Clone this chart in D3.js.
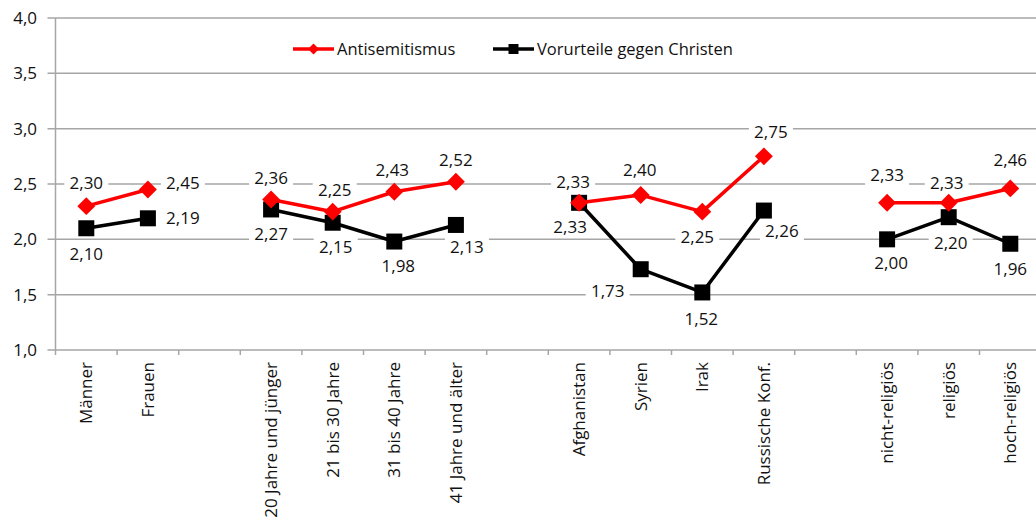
<!DOCTYPE html>
<html>
<head>
<meta charset="utf-8">
<script src="https://cdn.jsdelivr.net/npm/d3@7"></script>
<style>
  body { margin: 0; background: #fff; }
  text { font-family: "Open Sans", sans-serif; fill: #111; }
</style>
</head>
<body>
<div id="chart"></div>
<script>
// categories (empty strings are the gaps between groups)
var categories = ["Männer", "Frauen", "",
    "20 Jahre und jünger", "21 bis 30 Jahre", "31 bis 40 Jahre", "41 Jahre und älter", "",
    "Afghanistan", "Syrien", "Irak", "Russische Konf.", "",
    "nicht-religiös", "religiös", "hoch-religiös"];

var antisemitismus = [2.30, 2.45, null, 2.36, 2.25, 2.43, 2.52, null, 2.33, 2.40, 2.25, 2.75, null, 2.33, 2.33, 2.46];
var christen = [2.10, 2.19, null, 2.27, 2.15, 1.98, 2.13, null, 2.33, 1.73, 1.52, 2.26, null, 2.00, 2.20, 1.96];

var yTicks = [1.0, 1.5, 2.0, 2.5, 3.0, 3.5, 4.0];

// label placement (dx, dy from the marker), layout only
var antiOffsets = [[0, -23], [35, -6], null, [0, -21], [2, -22], [-2, -22], [0, -22], null,
    [-6, -21], [-1, -25], [-5, 25], [7, -24], null, [0, -28], [-2, -20], [0, -28]];
var christOffsets = [[0, 26], [35, 0], null, [0, 25], [3, 24], [4, 25], [11, 22], null,
    [-9, 24], [-33, 22], [-1, 27], [18, 20], null, [4, 24], [2, 26], [0, 25]];

var width = 1036, height = 520;
var margin = { left: 55.5, top: 18, bottom: 350 };
var slot = 61.6;

var svg = d3.select("#chart").append("svg")
    .attr("width", width)
    .attr("height", height);

var x = d3.scaleBand()
    .domain(d3.range(categories.length))
    .range([margin.left, margin.left + slot * categories.length])
    .padding(0);

var y = d3.scaleLinear()
    .domain([1, 4])
    .range([margin.bottom, margin.top]);

var fmt = function (v) { return d3.format(".2f")(v).replace(".", ","); };
var cx = function (i) { return x(i) + x.bandwidth() / 2; };

// gridlines
svg.append("g")
    .selectAll("line")
    .data(yTicks)
    .enter()
    .append("line")
    .attr("x1", margin.left - 8)
    .attr("x2", width)
    .attr("y1", function (d) { return y(d); })
    .attr("y2", function (d) { return y(d); })
    .style("stroke", "#a6a6a6")
    .style("stroke-width", 1.5);

// y tick labels
svg.append("g")
    .selectAll("text")
    .data(yTicks)
    .enter()
    .append("text")
    .attr("x", 37)
    .attr("y", function (d) { return y(d); })
    .attr("dy", "0.35em")
    .attr("text-anchor", "end")
    .style("font-size", "17px")
    .text(function (d) { return d3.format(".1f")(d).replace(".", ","); });

// y axis line
svg.append("line")
    .attr("x1", margin.left).attr("x2", margin.left)
    .attr("y1", margin.top).attr("y2", margin.bottom)
    .style("stroke", "#a6a6a6")
    .style("stroke-width", 1.5);

// x ticks between slots
svg.append("g")
    .selectAll("line")
    .data(d3.range(categories.length + 1))
    .enter()
    .append("line")
    .attr("x1", function (i) { return margin.left + i * x.step(); })
    .attr("x2", function (i) { return margin.left + i * x.step(); })
    .attr("y1", margin.bottom)
    .attr("y2", margin.bottom + 5)
    .style("stroke", "#a6a6a6")
    .style("stroke-width", 1.5);

// category labels
svg.append("g")
    .selectAll("text")
    .data(categories)
    .enter()
    .append("text")
    .attr("transform", function (d, i) { return "translate(" + (cx(i) + 6) + "," + (margin.bottom + 12) + ") rotate(-90)"; })
    .attr("text-anchor", "end")
    .style("font-size", "17px")
    .text(function (d) { return d; });

var line = d3.line()
    .defined(function (d) { return d !== null; })
    .x(function (d, i) { return cx(i); })
    .y(function (d) { return y(d); });

// diamond = square turned by 45 degrees
function drawSeries(values, color, rot, size) {
    svg.append("path")
        .datum(values)
        .attr("d", line)
        .style("fill", "none")
        .style("stroke", color)
        .style("stroke-width", 3.5)
        .style("stroke-linejoin", "round");

    svg.append("g")
        .selectAll("path")
        .data(values.map(function (v, i) { return { v: v, i: i }; }).filter(function (d) { return d.v !== null; }))
        .enter()
        .append("path")
        .attr("d", d3.symbol().type(d3.symbolSquare).size(size))
        .attr("transform", function (d) { return "translate(" + cx(d.i) + "," + y(d.v) + ") rotate(" + rot + ")"; })
        .style("fill", color);
}

function drawLabels(values, offsets) {
    var g = svg.append("g");
    values.forEach(function (v, i) {
        if (v === null) return;
        var px = cx(i) + offsets[i][0], py = y(v) + offsets[i][1];
        g.append("rect")
            .attr("x", px - 22).attr("y", py - 11)
            .attr("width", 44).attr("height", 22)
            .style("fill", "#fff");
        g.append("text")
            .attr("x", px).attr("y", py)
            .attr("dy", "0.35em")
            .attr("text-anchor", "middle")
            .style("font-size", "17px")
            .text(fmt(v));
    });
}

drawLabels(antisemitismus, antiOffsets);
drawLabels(christen, christOffsets);
drawSeries(christen, "#000000", 0, 256);
drawSeries(antisemitismus, "#ff0000", 45, 160);

// legend
var legend = [
    { name: "Antisemitismus", color: "#ff0000", rot: 45, size: 60, x: 293 },
    { name: "Vorurteile gegen Christen", color: "#000000", rot: 0, size: 100, x: 493 }
];
var lg = svg.append("g");
legend.forEach(function (l) {
    lg.append("line")
        .attr("x1", l.x).attr("x2", l.x + 41)
        .attr("y1", 49).attr("y2", 49)
        .style("stroke", l.color)
        .style("stroke-width", 3.5);
    lg.append("path")
        .attr("d", d3.symbol().type(d3.symbolSquare).size(l.size))
        .attr("transform", "translate(" + (l.x + 20.5) + ",49) rotate(" + l.rot + ")")
        .style("fill", l.color);
    lg.append("text")
        .attr("x", l.x + 44).attr("y", 49)
        .attr("dy", "0.35em")
        .style("font-size", "16.5px")
        .text(l.name);
});
</script>
</body>
</html>
